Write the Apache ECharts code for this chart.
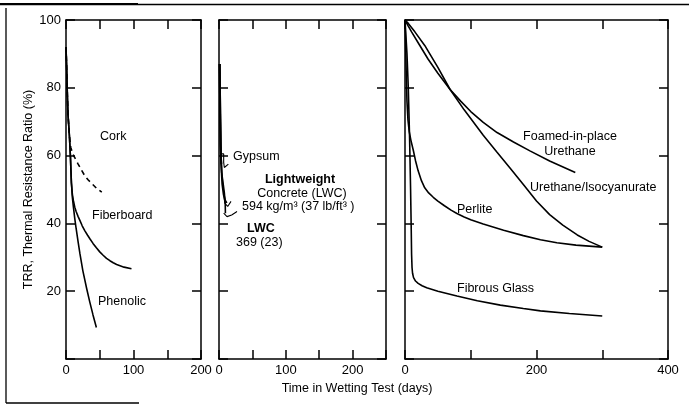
<!DOCTYPE html>
<html><head><meta charset="utf-8">
<script src="https://cdn.jsdelivr.net/npm/echarts@6/dist/echarts.min.js"></script>
<style>html,body{margin:0;padding:0;background:#fff}#c{width:689px;height:405px}</style>
</head><body><div id="c"></div>
<script>
// ---- data (days, TRR %) ----
const cork       = [[0,92],[1,86],[2,78],[3,72],[5,66],[7,62.5],[10,60.5],[14,59],[18,57.5],[23,55.7],[28,54],[33,52.8],[38,51.8],[45,50.4],[53,49.2]];
const fiberboard = [[0,92],[1,86],[2,78],[3,72],[5,66],[6.5,60],[8,52],[9.5,48.5],[11,46.7],[13,44.8],[15,43.5],[18,42],[20.7,40.8],[24,39.3],[28,37.8],[32,36.5],[35.6,35.4],[40,34.1],[45,32.8],[50,31.6],[55,30.6],[60,29.7],[65,29],[70,28.4],[75,27.9],[86,27.1],[97,26.6]];
const phenolic   = [[0,92],[1,86],[2,78],[3,72],[5,66],[6.5,60],[8,52],[9.5,47.5],[11,44.8],[13,41.4],[15,38.5],[18,34.5],[20.7,31],[25,26],[30.6,20.8],[35,17],[40,13],[45,9.3]];
const gypsum     = [[1,87],[1.5,78],[2,70],[2.5,63],[3,59],[3.5,57.5]];
const lwc594     = [[1,87],[1.5,78],[2,70],[2.5,63],[3,59],[4,55],[5,51.5],[7,48.5],[9,46.8],[11.5,46]];
const lwc369     = [[1,87],[1.5,78],[2,70],[2.5,63],[3,59],[4,55],[6,52],[8,49],[9.3,46],[9.6,43]];
const foamed     = [[0,100],[5,98.2],[10,96.5],[20,93.3],[35,88.5],[50,84.3],[68.6,79.5],[85,76],[100,73],[119,69.8],[140,66.8],[165,64],[190,61.4],[220,58.4],[259,55]];
const urethaneIso= [[0,100],[5,99],[15,96.5],[30,92.5],[50,86],[68.6,79.5],[90,73.5],[119,66],[140,61],[160,56.3],[180,51.5],[200,46.6],[220,42.6],[240,39.5],[262,36.6],[280,34.7],[300,33]];
const perlite    = [[0,100],[1,92],[2,83],[3,76],[4.5,70.5],[6.5,67],[9,64.5],[12.7,61.5],[16,58.5],[20,55.5],[25,52.6],[30,50.5],[36,49],[43,47.7],[50,46.6],[60,45.2],[70,43.9],[79,42.9],[90,41.9],[100,41.1],[119,39.8],[150,38],[180,36.4],[206,35.2],[231,34.3],[260,33.6],[300,33]];
const fibrousGlass=[[0,100],[3,90],[5,80],[7,65],[8.5,50],[9.5,38],[10,31],[10.7,27],[11.5,25.3],[13,24],[16,23],[20,22.3],[26,21.6],[33,21],[50,20],[79,18.6],[110,17.2],[145,15.9],[180,14.9],[206,14.2],[250,13.4],[300,12.7]];
// leader braces in panel 2 (data coords)
const braceGypsum = [[2.5,60.5],[7,60.5],[7,58],[8,56.5],[14,57.5]];
const brace594    = [[7,49.5],[8.5,46],[13,45],[18,46.5]];
const brace369    = [[7,43],[12,42],[19,42.5],[27,43.5]];
// axes ranges / ticks
const xMax = [200, 250, 400];
const xTick = [50, 50, 100];
const xLabelEvery = [100, 100, 200];
const yTicks = {min:0, max:100, interval:20};

const FONT = '"Liberation Sans", Arial, Helvetica, sans-serif';
const grids = [
  {left:66, top:20, width:135, height:339},
  {left:219, top:20, width:167, height:339},
  {left:405, top:20, width:263, height:339}
];
const axLine = {onZero:false, lineStyle:{color:'#000', width:1.5}};
const axTick = {inside:true, length:9, lineStyle:{color:'#000', width:1.5}};
const xAxis = [], yAxis = [];
grids.forEach((g,i)=>{
  xAxis.push({gridIndex:i, type:'value', position:'bottom', min:0, max:xMax[i], interval:xTick[i],
    axisLine:axLine, axisTick:axTick, splitLine:{show:false},
    axisLabel:{color:'#000', fontSize:13, fontFamily:FONT, margin:5, formatter:v=> (v%xLabelEvery[i]===0 ? String(v) : '')}});
  xAxis.push({gridIndex:i, type:'value', position:'top', min:0, max:xMax[i], interval:xTick[i],
    axisLine:axLine, axisTick:axTick, splitLine:{show:false}, axisLabel:{show:false}});
  yAxis.push(Object.assign({gridIndex:i, type:'value', position:'left',
    axisLine:axLine, axisTick:axTick, splitLine:{show:false},
    axisLabel:{show:i===0, color:'#000', fontSize:13, fontFamily:FONT, margin:5, formatter:v=> (v===0?'':String(v))}},
    yTicks, i===0 ? {name:'TRR, Thermal Resistance Ratio (%)', nameLocation:'middle', nameGap:24,
      nameTextStyle:{color:'#000', fontSize:12.5, fontFamily:FONT}} : {}));
  yAxis.push(Object.assign({gridIndex:i, type:'value', position:'right',
    axisLine:axLine, axisTick:axTick, splitLine:{show:false}, axisLabel:{show:false}}, yTicks));
});
function ser(data, gi, opts){
  return Object.assign({type:'line', data, xAxisIndex:gi*2, yAxisIndex:gi*2, showSymbol:false, symbol:'none',
    smooth:false, lineStyle:{color:'#000', width:1.6}, silent:true, animation:false}, opts||{});
}
const series = [
  ser(cork,0,{lineStyle:{color:'#000', width:1.6, type:[5,4]}}),
  ser(fiberboard,0), ser(phenolic,0),
  ser(gypsum,1,{lineStyle:{color:'#000', width:2}}), ser(lwc594,1,{lineStyle:{color:'#000', width:2}}), ser(lwc369,1),
  ser(braceGypsum,1,{lineStyle:{color:'#000', width:1.1}}), ser(brace594,1,{lineStyle:{color:'#000', width:1.1}}), ser(brace369,1,{lineStyle:{color:'#000', width:1.1}}),
  ser(foamed,2), ser(urethaneIso,2), ser(perlite,2), ser(fibrousGlass,2)
];
function txt(t, x, y, align, bold){
  return {type:'text', x, y, silent:true, style:{text:t, fill:'#000', font:(bold?'bold ':'')+'12.5px '+FONT,
    textAlign:align||'left', textVerticalAlign:'middle'}};
}
const graphic = [
  {type:'line', shape:{x1:0,y1:4.5,x2:689,y2:4.5}, style:{stroke:'#000', lineWidth:1.3}},
  {type:'line', shape:{x1:0,y1:4,x2:138,y2:4}, style:{stroke:'#000', lineWidth:2}},
  {type:'line', shape:{x1:6,y1:8,x2:6,y2:403}, style:{stroke:'#000', lineWidth:1.3}},
  {type:'line', shape:{x1:6,y1:403,x2:139,y2:403}, style:{stroke:'#000', lineWidth:1.3}},
  txt('Cork',100,137), txt('Fiberboard',92,216), txt('Phenolic',98,302),
  txt('Gypsum',233,157), txt('Lightweight',300,180,'center',true), txt('Concrete (LWC)',302,194,'center'),
  txt('594 kg/m³ (37 lb/ft³ )',242,207), txt('LWC',247,229,'left',true), txt('369 (23)',236,243),
  txt('Foamed-in-place',570,137,'center'), txt('Urethane',570,152,'center'),
  txt('Urethane/Isocyanurate',530,188), txt('Perlite',457,210), txt('Fibrous Glass',457,289),
  txt('Time in Wetting Test (days)',357,389,'center')
];
const chart = echarts.init(document.getElementById('c'), null, {renderer:'canvas'});
chart.setOption({backgroundColor:'#fff', animation:false, grid:grids, xAxis, yAxis, series, graphic});
</script></body></html>
